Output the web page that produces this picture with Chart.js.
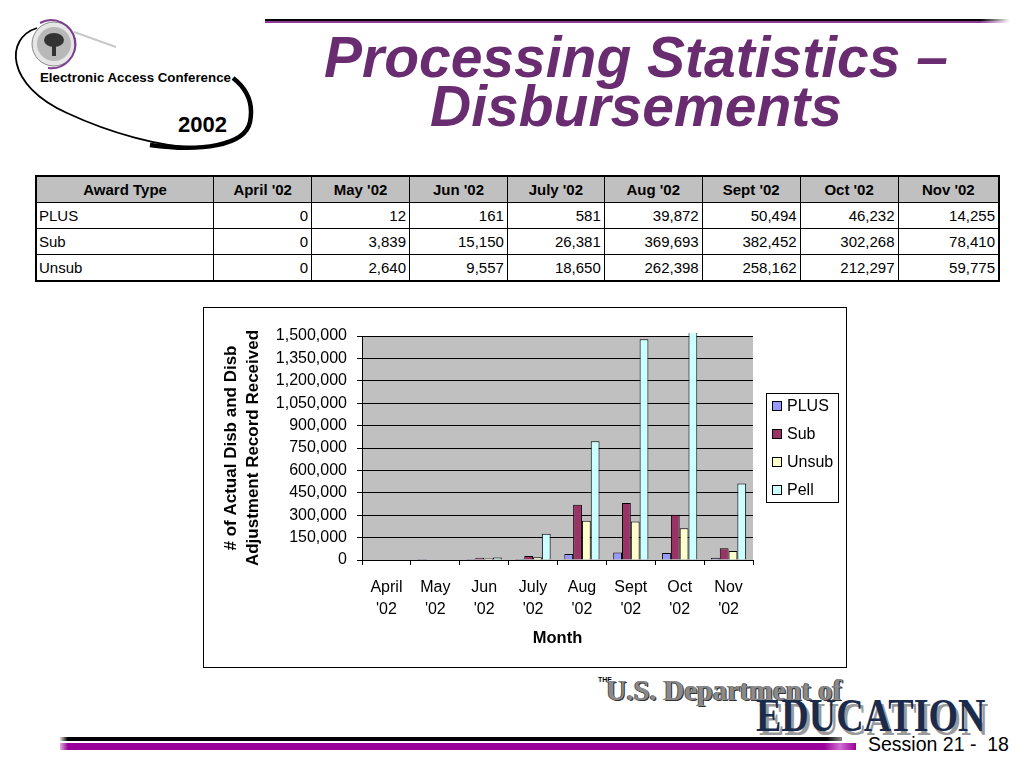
<!DOCTYPE html>
<html>
<head>
<meta charset="utf-8">
<title>Processing Statistics – Disbursements</title>
<script src="https://cdn.jsdelivr.net/npm/chart.js@4.4.1/dist/chart.umd.min.js"></script>
<style>
  html, body { margin: 0; padding: 0; background: #fff; }
  body { width: 1024px; height: 768px; position: relative; overflow: hidden;
         font-family: "Liberation Sans", Arial, sans-serif; }
  .abs { position: absolute; }
  .title { left: 186px; width: 900px; text-align: center; color: #6a2c70;
           font-weight: bold; font-style: italic; font-size: 57px; line-height: 57px;
           white-space: nowrap; }
  .topline1 { left: 265px; top: 19px; width: 745px; height: 2px;
              background: linear-gradient(to right, #000 0, #000 96%, #fff 100%); }
  .topline2 { left: 265px; top: 21px; width: 745px; height: 2px;
              background: linear-gradient(to right, #8e3a96 0, #8e3a96 96%, #fff 100%); }
  table.stats { position: absolute; left: 35px; top: 175px; width: 965px;
                border-collapse: collapse; border: 2px solid #000; font-size: 15px; }
  table.stats td, table.stats th { border: 1px solid #000; padding: 0 3px; }
  table.stats th { background: #c0c0c0; height: 25px; font-weight: bold; text-align: center; }
  table.stats td { height: 25px; text-align: right; }
  table.stats td.name { text-align: left; padding-left: 2px; }
  .chartbox { left: 203px; top: 307px; width: 644px; height: 361px; box-sizing: border-box;
              border: 1px solid #000; background: #fff; }
  .chartbox canvas { position: absolute; left: 0; top: 0; }
  .botline1 { left: 60px; top: 737px; width: 782px; height: 4px;
              background: linear-gradient(to right, #ddd 0, #000 1%, #000 98%, #888 100%); }
  .botline2 { left: 60px; top: 743px; width: 796px; height: 7px;
              background: linear-gradient(to right, #e0b0e0 0, #990099 1%, #990099 96%, #d070d0 98%, #990099 100%); }
  .session { left: 868px; top: 733px; font-size: 19.5px; white-space: pre; color: #000; }
  .doe-the { left: 598px; top: 676px; font-size: 7px; font-weight: bold; }
  .doe-us { left: 606px; top: 677px; font-family: "Liberation Serif", "Times New Roman", serif;
            font-weight: bold; font-size: 28.5px; color: #8a8a8a; white-space: nowrap;
            text-shadow: 1px 1px 0 #333, -1px 0 0 #555; line-height: 28px; }
  .doe-ed { left: 756px; top: 693px; font-family: "Liberation Serif", "Times New Roman", serif;
            font-weight: bold; font-size: 38px; color: #1a2b4c; white-space: nowrap;
            text-shadow: 3px 3px 0 #9a9a9a; line-height: 38px;
            transform: scaleY(1.2); transform-origin: left top; }
</style>
</head>
<body>

<!-- conference logo -->
<svg class="abs" style="left:0;top:0" width="265" height="160">
  <line x1="74" y1="32" x2="116" y2="47" stroke="#c8c8c8" stroke-width="2"/>
  <circle cx="54" cy="44" r="22" fill="#e6e6e6" stroke="#888" stroke-width="1"/>
  <circle cx="54" cy="44" r="17" fill="#b8b8b8"/>
  <ellipse cx="54" cy="40" rx="10" ry="7" fill="#333"/>
  <rect x="52" y="43" width="4" height="13" fill="#333"/>
  <path d="M 40 23 A 24 24 0 1 1 48 68" fill="none" stroke="#7a3c8c" stroke-width="2"/>
  <path d="M 37 28 C 5 38, 5 85, 67 113 C 110 133, 160 147, 200 148" fill="none" stroke="#000" stroke-width="1.8"/>
  <path d="M 150 145 C 200 152, 245 146, 250 122 C 254 102, 246 88, 233 78" fill="none" stroke="#000" stroke-width="4.5"/>
  <text x="40" y="82" font-family="Liberation Sans, Arial" font-weight="bold" font-size="13.3">Electronic Access Conference</text>
  <text x="178" y="132" font-family="Liberation Sans, Arial" font-weight="bold" font-size="22">2002</text>
</svg>

<div class="abs topline1"></div>
<div class="abs topline2"></div>
<div class="abs title" style="top:29px">Processing Statistics –</div>
<div class="abs title" style="top:78px">Disbursements</div>

<table class="stats" id="stats">
  <colgroup>
    <col style="width:178px"><col style="width:98px"><col style="width:98px"><col style="width:98px">
    <col style="width:97px"><col style="width:98px"><col style="width:98px"><col style="width:98px"><col style="width:101px">
  </colgroup>
</table>

<div class="abs chartbox">
  <canvas id="disbChart" width="642" height="359"></canvas>
</div>

<div class="abs doe-the">THE</div>
<div class="abs doe-us">U.S. Department of</div>
<div class="abs doe-ed">EDUCATION</div>

<div class="abs botline1"></div>
<div class="abs botline2"></div>
<div class="abs session">Session 21 -  18</div>

<script>
// months and award type data
const months = ['April', 'May', 'Jun', 'July', 'Aug', 'Sept', 'Oct', 'Nov'];
const year = "'02";
const plusData  = [0, 12, 161, 581, 39872, 50494, 46232, 14255];
const subData   = [0, 3839, 15150, 26381, 369693, 382452, 302268, 78410];
const unsubData = [0, 2640, 9557, 18650, 262398, 258162, 212297, 59775];
// Pell is only in the chart (Oct runs past the top)
const pellData  = [0, 0, 17000, 176000, 796000, 1478000, 1600000, 512000];
const yTicks = [0, 150000, 300000, 450000, 600000, 750000, 900000, 1050000, 1200000, 1350000, 1500000];

const fmt = (n) => n.toLocaleString('en-US');

// build the table
const table = document.getElementById('stats');
let head = '<tr><th>Award Type</th>';
months.forEach(m => { head += '<th>' + m + ' ' + year + '</th>'; });
head += '</tr>';
const rows = [['PLUS', plusData], ['Sub', subData], ['Unsub', unsubData]];
let body = '';
rows.forEach(([name, vals]) => {
  body += '<tr><td class="name">' + name + '</td>';
  vals.forEach(v => { body += '<td>' + fmt(v) + '</td>'; });
  body += '</tr>';
});
table.insertAdjacentHTML('beforeend', head + body);

// gray plot area
const plotBg = {
  id: 'plotBg',
  beforeDraw(chart) {
    const { ctx, chartArea: a } = chart;
    ctx.save();
    ctx.fillStyle = '#c0c0c0';
    ctx.fillRect(a.left, a.top, a.right - a.left, a.bottom - a.top);
    ctx.restore();
  }
};

// boxed legend like the excel one
const boxLegend = {
  id: 'boxLegend',
  afterDraw(chart) {
    const ctx = chart.ctx;
    const x = 562, y = 85, w = 72, h = 109;
    ctx.save();
    ctx.fillStyle = '#fff';
    ctx.fillRect(x, y, w, h);
    ctx.strokeStyle = '#000';
    ctx.lineWidth = 1;
    ctx.strokeRect(x + 0.5, y + 0.5, w, h);
    ctx.font = '16px "Liberation Sans", Arial';
    ctx.textBaseline = 'middle';
    chart.data.datasets.forEach((ds, i) => {
      const cy = y + 13 + i * 28;
      ctx.fillStyle = ds.backgroundColor;
      ctx.fillRect(x + 6.5, cy - 4.5, 9, 9);
      ctx.strokeRect(x + 6.5, cy - 4.5, 9, 9);
      ctx.fillStyle = '#000';
      ctx.fillText(ds.label, x + 21, cy + 1);
    });
    ctx.restore();
  }
};

const ctx = document.getElementById('disbChart').getContext('2d');
const disbChart = new Chart(ctx, {
  type: 'bar',
  data: {
    labels: months.map(m => [m, year]),
    datasets: [
      { label: 'PLUS',  data: plusData,  backgroundColor: '#9999ff' },
      { label: 'Sub',   data: subData,   backgroundColor: '#993366' },
      { label: 'Unsub', data: unsubData, backgroundColor: '#ffffcc' },
      { label: 'Pell',  data: pellData,  backgroundColor: '#ccffff' }
    ]
  },
  options: {
    responsive: false,
    animation: false,
    devicePixelRatio: 1,
    layout: { padding: { left: 0, right: 93, top: 28, bottom: 0 } },
    datasets: {
      bar: {
        borderColor: '#000',
        borderWidth: 1,
        categoryPercentage: 0.72,
        barPercentage: 1.0,
        clip: 3
      }
    },
    plugins: {
      legend: { display: false },
      tooltip: { enabled: false }
    },
    scales: {
      x: {
        afterFit: (s) => { s.height = 107; },
        grid: { display: true, drawOnChartArea: false, drawTicks: true, tickLength: 5, color: '#000', offset: true },
        border: { display: true, color: '#000' },
        ticks: {
          color: '#000', padding: 11, maxRotation: 0, autoSkip: false,
          font: { family: '"Liberation Sans", Arial', size: 16, lineHeight: 1.4 }
        },
        title: {
          display: true, text: 'Month', color: '#000',
          font: { family: '"Liberation Sans", Arial', size: 16.5, weight: 'bold', lineHeight: 1.2 },
          padding: { top: 0, bottom: 19 }
        }
      },
      y: {
        min: 0,
        max: 1500000,
        afterFit: (s) => { s.width = 158; },
        afterBuildTicks: (s) => { s.ticks = yTicks.map(v => ({ value: v })); },
        grid: { color: '#000', tickLength: 5, drawTicks: true },
        border: { display: true, color: '#000' },
        ticks: {
          color: '#000', padding: 10,
          font: { family: '"Liberation Sans", Arial', size: 16 },
          callback: (v) => fmt(v)
        },
        title: {
          display: true,
          text: ['# of Actual Disb and Disb', 'Adjustment Record Received'],
          color: '#000',
          font: { family: '"Liberation Sans", Arial', size: 17, weight: 'bold', lineHeight: 1.3 },
          padding: { top: 16, bottom: 0 }
        }
      }
    }
  },
  plugins: [plotBg, boxLegend]
});
</script>
</body>
</html>
